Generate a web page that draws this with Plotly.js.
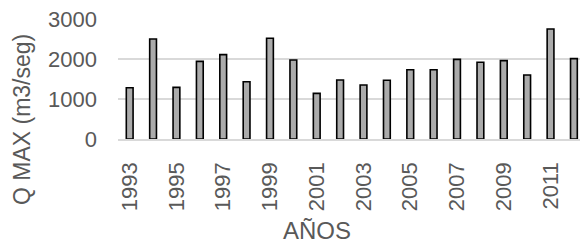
<!DOCTYPE html>
<html>
<head>
<meta charset="utf-8">
<script src="https://cdn.plot.ly/plotly-3.0.1.min.js"></script>
<style>html,body{margin:0;padding:0;background:#fff;}#chart{width:580px;height:244px;}</style>
</head>
<body>
<div id="chart"></div>
<script>
const years = ['1993','1994','1995','1996','1997','1998','1999','2000','2001','2002','2003','2004','2005','2006','2007','2008','2009','2010','2011','2012'];
const qmax = [1280,2500,1290,1940,2110,1430,2520,1975,1140,1475,1350,1470,1730,1730,1990,1920,1960,1600,2750,2010];
const tickLabels = ['1993','1995','1997','1999','2001','2003','2005','2007','2009','2011'];
const yTicks = [0,1000,2000,3000];

const L = 118, W = 580, H = 244, T = 19, B = 105;
const pw = W - L, ph = H - T - B;
const txt = '#595959';
const ff = 'Liberation Sans, Arial, sans-serif';

Plotly.newPlot('chart', [{
  type: 'bar',
  x: years,
  y: qmax,
  width: 0.29,
  marker: {color: '#ababab', line: {color: '#000000', width: 1.6}},
  hoverinfo: 'none'
}], {
  width: W, height: H,
  margin: {l: L, r: 0, t: T, b: B, pad: 0},
  paper_bgcolor: '#fff', plot_bgcolor: '#fff',
  showlegend: false,
  font: {family: ff, color: txt},
  xaxis: {
    type: 'category',
    range: [-0.5, 19.26],
    tickmode: 'array', tickvals: tickLabels, ticktext: tickLabels,
    tickangle: -90,
    tickfont: {size: 22, color: txt, family: ff},
    ticklabelstandoff: 13,
    showgrid: false, zeroline: false,
    showline: true, linecolor: '#d9d9d9', linewidth: 1.5,
    ticks: '', automargin: false
  },
  yaxis: {
    range: [0, 3000],
    tickmode: 'array', tickvals: yTicks,
    tickfont: {size: 22, color: txt, family: ff},
    showgrid: true, gridcolor: '#d9d9d9', gridwidth: 1.5,
    zeroline: false, showline: false, ticks: '',
    ticklabelstandoff: 20,
    automargin: false
  },
  annotations: [
    {text: 'Q MAX (m3/seg)', textangle: -90, xref: 'paper', yref: 'paper',
     x: (22 - L) / pw, y: (H - B - 120) / ph, xanchor: 'center', yanchor: 'middle',
     showarrow: false, font: {size: 23, color: txt, family: ff}},
    {text: 'AÑOS', xref: 'paper', yref: 'paper',
     x: (317 - L) / pw, y: (H - B - 230) / ph, xanchor: 'center', yanchor: 'middle',
     showarrow: false, font: {size: 24, color: txt, family: ff}}
  ]
}, {staticPlot: true});
</script>
</body>
</html>
